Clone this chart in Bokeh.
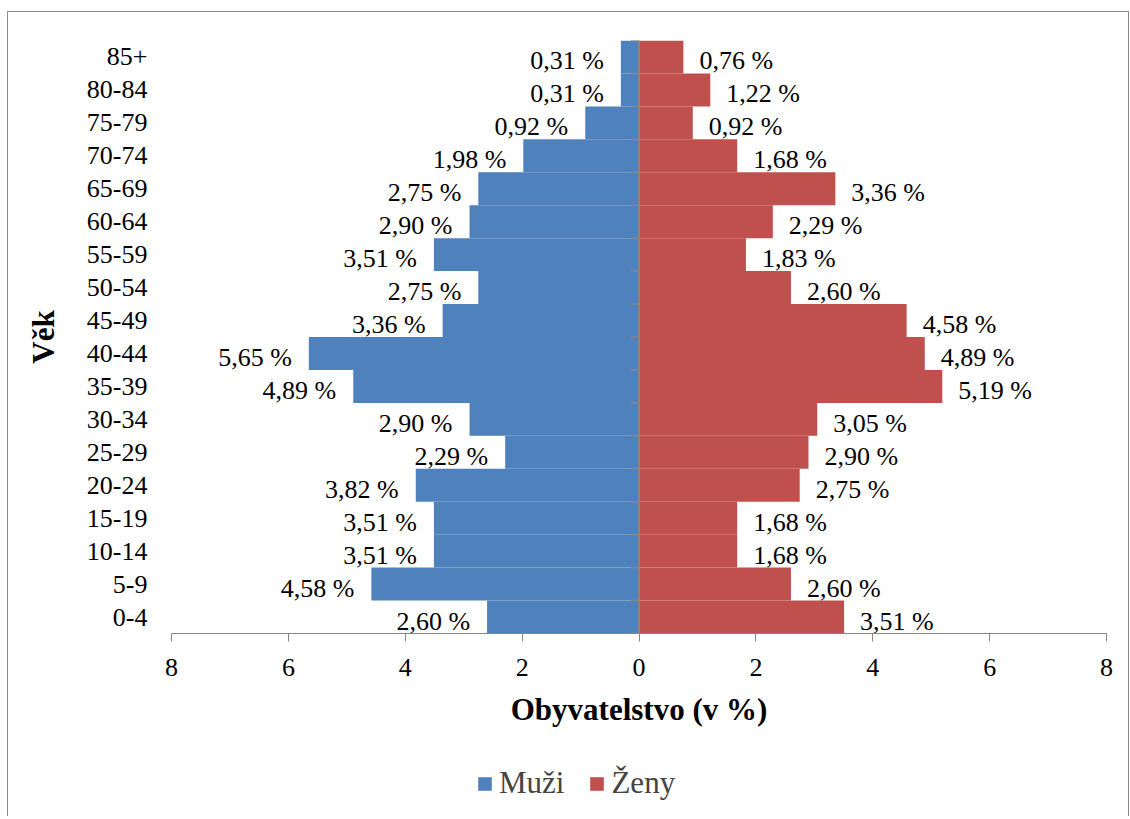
from bokeh.plotting import figure
from bokeh.layouts import column
from bokeh.models import (FixedTicker, Span, Legend, LegendItem, ColumnDataSource, Range1d)
from bokeh.core.properties import value
from bokeh.embed import file_html
from bokeh.resources import INLINE

# ---- data (bottom to top) ----
age_groups = ["0-4", "5-9", "10-14", "15-19", "20-24", "25-29", "30-34", "35-39",
              "40-44", "45-49", "50-54", "55-59", "60-64", "65-69", "70-74",
              "75-79", "80-84", "85+"]
muzi = [2.60, 4.58, 3.51, 3.51, 3.82, 2.29, 2.90, 4.89, 5.65, 3.36,
        2.75, 3.51, 2.90, 2.75, 1.98, 0.92, 0.31, 0.31]
zeny = [3.51, 2.60, 1.68, 1.68, 2.75, 2.90, 3.05, 5.19, 4.89, 4.58,
        2.60, 1.83, 2.29, 3.36, 1.68, 0.92, 1.22, 0.76]
x_ticks = [-8, -6, -4, -2, 0, 2, 4, 6, 8]

BLUE = "#4F81BD"
RED = "#C0504D"
GRAY = "#868686"
FONT = "Liberation Serif"

def fmt(v):
    return f"{v:.2f} %".replace(".", ",")

n = len(age_groups)
idx = list(range(n))
src = ColumnDataSource(dict(
    y=idx, m_left=[-v for v in muzi], z_right=zeny,
    m_lab=[fmt(v) for v in muzi], z_lab=[fmt(v) for v in zeny],
))

p = figure(width=1120, height=740, output_backend="svg", toolbar_location=None,
           x_range=Range1d(-8, 8), y_range=Range1d(-0.5, n - 0.5),
           min_border_left=163, min_border_right=22, min_border_top=28,
           min_border_bottom=119)
p.outline_line_color = None
p.grid.visible = False

r_m = p.hbar(y="y", left="m_left", right=0, height=1, source=src,
             fill_color=BLUE, line_color=None)
r_z = p.hbar(y="y", left=0, right="z_right", height=1, source=src,
             fill_color=RED, line_color=None)

# central vertical axis and its tick marks at category boundaries
p.add_layout(Span(location=0, dimension="height", line_color=GRAY, line_width=2))
bounds = [i - 0.5 for i in range(n + 1)]
tick_len = 8 / (935 / 16)
p.segment(x0=[-tick_len] * len(bounds), x1=[0] * len(bounds), y0=bounds, y1=bounds,
          line_color=GRAY, line_width=1.5)

# data labels
p.text(x="m_left", y="y", text="m_lab", source=src, text_align="right",
       text_baseline="middle", x_offset=-17, y_offset=4,
       text_font=value(FONT), text_font_size="26px", text_color="black")
p.text(x="z_right", y="y", text="z_lab", source=src, text_align="left",
       text_baseline="middle", x_offset=16, y_offset=4,
       text_font=value(FONT), text_font_size="26px", text_color="black")

# x axis
xa = p.xaxis[0]
xa.ticker = FixedTicker(ticks=x_ticks)
xa.major_label_overrides = {t: str(abs(t)) for t in x_ticks}
xa.minor_tick_line_color = None
xa.major_tick_in = 0
xa.major_tick_out = 8
xa.axis_line_color = GRAY
xa.major_tick_line_color = GRAY
xa.major_label_text_font = FONT
xa.major_label_text_font_size = "26px"
xa.major_label_text_color = "black"
xa.major_label_standoff = 17
xa.axis_label = "Obyvatelstvo (v %)"
xa.axis_label_text_font = FONT
xa.axis_label_text_font_size = "31px"
xa.axis_label_text_font_style = "bold"
xa.axis_label_text_color = "black"
xa.axis_label_standoff = 13

# y axis (category labels)
ya = p.yaxis[0]
ya.ticker = FixedTicker(ticks=idx)
ya.major_label_overrides = {i: g for i, g in zip(idx, age_groups)}
ya.axis_line_color = None
ya.major_tick_line_color = None
ya.minor_tick_line_color = None
ya.major_tick_in = 0
ya.major_tick_out = 0
ya.major_label_text_font = FONT
ya.major_label_text_font_size = "26px"
ya.major_label_text_color = "black"
ya.major_label_standoff = 24
ya.axis_label = "Věk"
ya.axis_label_text_font = FONT
ya.axis_label_text_font_size = "31px"
ya.axis_label_text_font_style = "bold"
ya.axis_label_text_color = "black"
ya.axis_label_standoff = 23

# legend strip below the chart (its renderers use the same data, kept out of view)
lf = figure(width=1120, height=64, output_backend="svg", toolbar_location=None,
            x_axis_location=None, y_axis_location=None, min_border=0,
            x_range=Range1d(100, 101), y_range=Range1d(100, 101))
lf.outline_line_color = None
lf.grid.visible = False
l_m = lf.hbar(y="y", left="m_left", right=0, height=1, source=src,
              fill_color=BLUE, line_color=None)
l_z = lf.hbar(y="y", left=0, right="z_right", height=1, source=src,
              fill_color=RED, line_color=None)
legend = Legend(items=[LegendItem(label="Muži", renderers=[l_m]),
                       LegendItem(label="Ženy", renderers=[l_z])],
                orientation="horizontal", location=(305, 15),
                label_text_font=FONT, label_text_font_size="31px",
                glyph_width=17, glyph_height=17, label_standoff=6, spacing=24,
                border_line_color=None, background_fill_alpha=0,
                margin=0, padding=0)
lf.add_layout(legend, "center")

layout = column(p, lf, spacing=0)
layout.styles = {"border": "1px solid #8a8a8a", "border-bottom": "none",
                 "margin": "11px 0 0 7px"}
open("out.html", "w").write(file_html(layout, INLINE))
